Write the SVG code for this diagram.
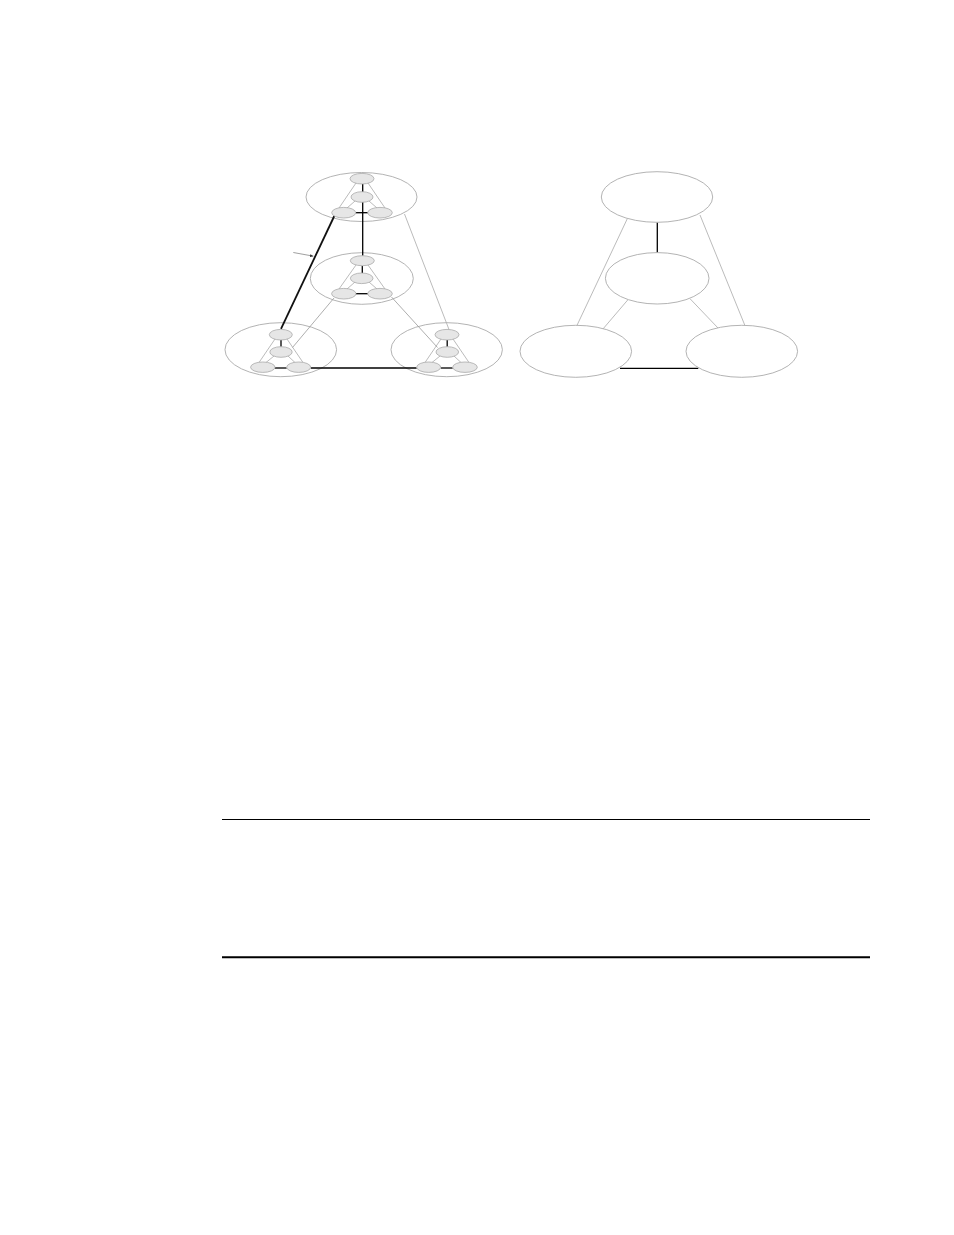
<svg xmlns="http://www.w3.org/2000/svg" width="954" height="1235" viewBox="0 0 954 1235">
<style>
.big{fill:none;stroke:#aaaaaa;stroke-width:0.9}
.big2{fill:#ffffff;stroke:#aaaaaa;stroke-width:0.9}
.sm{fill:#e6e6e6;stroke:#aaaaaa;stroke-width:0.8}
.g{stroke:#aaaaaa;stroke-width:0.8;fill:none}
.gd{stroke:#999999;stroke-width:0.8;fill:none}
.k{stroke:#000000;stroke-width:1.3;fill:none}
.kk{stroke:#111111;stroke-width:1.8;fill:none}
</style>
<defs>
<marker id="ah" viewBox="0 0 10 10" refX="10" refY="5" markerWidth="5" markerHeight="5" orient="auto">
<path d="M0,1 L10,5 L0,9 z" fill="#333333"/>
</marker>
</defs>
<rect width="954" height="1235" fill="#ffffff"/>

<!-- left diagram: big ellipses -->
<g id="grp-top"><ellipse class="big" cx="361.5" cy="197" rx="55.5" ry="24.5"/></g>
<g id="grp-mid"><ellipse class="big" cx="361.8" cy="278.5" rx="51.5" ry="25.8"/></g>
<g id="grp-bl"><ellipse class="big" cx="280.8" cy="349.7" rx="55.8" ry="27"/></g>
<g id="grp-br"><ellipse class="big" cx="446.7" cy="349.7" rx="55.7" ry="27"/></g>

<g id="connectors">
<!-- within top group -->
<line class="g" x1="356" y1="183" x2="339" y2="208"/>
<line class="g" x1="368" y1="183" x2="385" y2="208"/>
<line class="g" x1="355" y1="201" x2="347" y2="208"/>
<line class="g" x1="369" y1="201" x2="377" y2="208"/>
<line class="k" x1="362.7" y1="184" x2="362.7" y2="255.7"/>
<line class="k" x1="355.7" y1="212.7" x2="368" y2="212.7"/>
<!-- within middle group -->
<line class="g" x1="356" y1="265" x2="339" y2="289"/>
<line class="g" x1="368" y1="265" x2="385" y2="289"/>
<line class="g" x1="355" y1="282" x2="347" y2="289"/>
<line class="g" x1="369" y1="282" x2="377" y2="289"/>
<line class="k" x1="362.3" y1="265.7" x2="362.3" y2="273"/>
<line class="k" x1="355.8" y1="293.7" x2="368" y2="293.7"/>
<!-- within bottom-left group -->
<line class="g" x1="275" y1="339" x2="259" y2="362.5"/>
<line class="g" x1="287" y1="339" x2="303" y2="362.5"/>
<line class="g" x1="274" y1="356" x2="266" y2="362.5"/>
<line class="g" x1="288" y1="356" x2="295" y2="362.5"/>
<line class="k" x1="281" y1="340" x2="281" y2="346.7"/>
<line class="k" x1="274.8" y1="368" x2="286.7" y2="368"/>
<!-- within bottom-right group -->
<line class="g" x1="441" y1="339" x2="425" y2="362.5"/>
<line class="g" x1="453" y1="339" x2="469" y2="362.5"/>
<line class="g" x1="440" y1="356" x2="432" y2="362.5"/>
<line class="g" x1="454" y1="356" x2="461" y2="362.5"/>
<line class="k" x1="447.2" y1="340" x2="447.2" y2="346.7"/>
<line class="k" x1="440.7" y1="368" x2="452.7" y2="368"/>
<!-- between groups -->
<line class="k" x1="310.7" y1="368" x2="416.7" y2="368"/>
<line class="kk" x1="334.3" y1="216" x2="281" y2="328.8"/>
<line class="g" x1="404.5" y1="214" x2="449" y2="329.5"/>
<line class="gd" x1="334" y1="298" x2="292.5" y2="347.5"/>
<line class="gd" x1="391.5" y1="297" x2="437.5" y2="347.5"/>
<line stroke="#777777" stroke-width="0.7" x1="293.3" y1="252.5" x2="313.5" y2="256.2" marker-end="url(#ah)"/>
<!-- right diagram -->
<line class="k" x1="657.3" y1="222.5" x2="657.3" y2="252.7"/>
<line class="k" x1="620" y1="368.3" x2="698.3" y2="368.3"/>
<line class="g" x1="627.3" y1="218.7" x2="576.7" y2="326"/>
<line class="g" x1="700" y1="215" x2="745" y2="325.7"/>
<line class="g" x1="628.3" y1="299.3" x2="602.7" y2="329.3"/>
<line class="g" x1="690" y1="298.7" x2="718.3" y2="328.3"/>
</g>

<!-- small nodes, top group -->
<g id="t-top"><ellipse class="sm" cx="362" cy="178.7" rx="12" ry="5.3"/></g>
<g id="t-mid"><ellipse class="sm" cx="362" cy="197" rx="11" ry="5.3"/></g>
<g id="t-bl"><ellipse class="sm" cx="343.7" cy="212.7" rx="12" ry="5.3"/></g>
<g id="t-br"><ellipse class="sm" cx="380" cy="212.7" rx="12.3" ry="5.3"/></g>
<!-- middle group -->
<g id="m-top"><ellipse class="sm" cx="362.3" cy="260.7" rx="12" ry="5"/></g>
<g id="m-mid"><ellipse class="sm" cx="361.7" cy="278.3" rx="11.3" ry="5.3"/></g>
<g id="m-bl"><ellipse class="sm" cx="343.8" cy="293.7" rx="12.2" ry="5.3"/></g>
<g id="m-br"><ellipse class="sm" cx="380" cy="293.7" rx="12.3" ry="5.3"/></g>
<!-- bottom-left group -->
<g id="bl-top"><ellipse class="sm" cx="280.8" cy="334.7" rx="11.5" ry="5.3"/></g>
<g id="bl-mid"><ellipse class="sm" cx="281" cy="352" rx="11.2" ry="5.3"/></g>
<g id="bl-bl"><ellipse class="sm" cx="262.8" cy="367.2" rx="12.2" ry="5.2"/></g>
<g id="bl-br"><ellipse class="sm" cx="298.7" cy="367.2" rx="12" ry="5.2"/></g>
<!-- bottom-right group -->
<g id="br-top"><ellipse class="sm" cx="447" cy="334.7" rx="12" ry="5.3"/></g>
<g id="br-mid"><ellipse class="sm" cx="447.3" cy="352" rx="11.3" ry="5.3"/></g>
<g id="br-bl"><ellipse class="sm" cx="428.7" cy="367.2" rx="12" ry="5.2"/></g>
<g id="br-br"><ellipse class="sm" cx="465" cy="367.2" rx="12.3" ry="5.2"/></g>

<!-- right diagram nodes -->
<g id="r-top"><ellipse class="big2" cx="657" cy="197" rx="55.7" ry="25.3"/></g>
<g id="r-mid"><ellipse class="big2" cx="657.2" cy="278.3" rx="51.8" ry="25.7"/></g>
<g id="r-bl"><ellipse class="big2" cx="575.8" cy="351.3" rx="55.8" ry="26"/></g>
<g id="r-br"><ellipse class="big2" cx="741.8" cy="351.3" rx="55.8" ry="26"/></g>

<!-- rules -->
<line x1="222" y1="819.5" x2="870" y2="819.5" stroke="#000" stroke-width="1"/>
<line x1="222" y1="957.3" x2="870" y2="957.3" stroke="#000" stroke-width="2"/>
</svg>
